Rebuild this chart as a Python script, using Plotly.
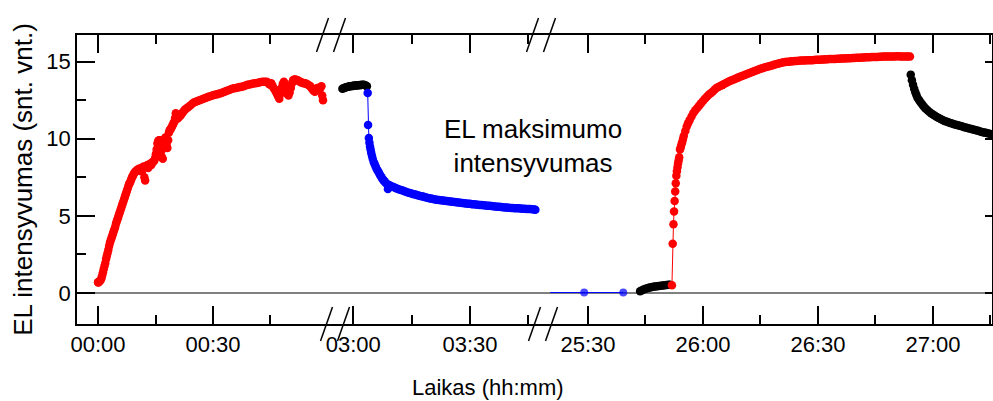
import plotly.graph_objects as go

# ---------------- data (time in minutes since start, EL intensity in a.u.) ----------------
# Segment 1 (00:00 - 01:00) red
t_red1 = [0.0, 0.1, 0.2, 0.3, 0.5, 0.7, 0.9, 1.1, 1.3, 1.5, 1.7, 1.9, 2.1, 2.3, 2.5, 2.7, 2.9,
          3.1, 3.3, 3.5, 3.7, 3.9, 4.1, 4.3, 4.5, 4.7, 4.9, 5.1, 5.3, 5.5, 5.7, 5.9, 6.1,
          6.3, 6.5, 6.7, 6.9, 7.1, 7.3, 7.5, 7.7, 7.9, 8.1, 8.3, 8.5, 8.7, 8.9, 9.1, 9.3,
          9.5, 9.7, 9.9, 10.1, 10.3, 10.5, 10.7, 10.9, 11.1, 11.3, 11.5, 11.7, 11.9, 12.1,
          12.3, 12.5, 12.7, 12.9, 13.1, 13.3, 13.5, 13.7, 13.9, 14.1, 14.3, 14.5, 14.7,
          14.9, 15.1, 15.3, 15.5, 15.7, 15.9, 16.1, 16.3, 16.5, 16.7, 16.9, 17.1, 17.3,
          17.5, 17.7, 17.9, 18.1, 18.3, 18.5, 18.7, 18.9, 19.1, 19.3, 19.5, 19.7, 19.9,
          20.1, 20.3, 20.5, 20.7, 20.9, 21.2, 21.5, 21.8, 22.1, 22.4, 22.7, 23.0, 23.5,
          24.0, 24.5, 25.0, 25.5, 26.0, 26.5, 27.0, 27.5, 28.0, 28.5, 29.0, 29.5, 30.0,
          30.5, 31.0, 31.5, 32.0, 32.5, 33.0, 33.5, 34.0, 34.5, 35.0, 35.5, 36.0, 36.5,
          37.0, 37.5, 38.0, 38.5, 39.0, 39.5, 40.0, 40.5, 41.0, 41.5, 42.0, 42.5, 43.0,
          43.5, 44.0, 44.3, 44.6, 44.9, 45.2, 45.5, 45.8, 46.1, 46.4, 46.7, 47.0, 47.3,
          47.6, 47.9, 48.2, 48.5, 48.8, 49.1, 49.4, 49.7, 50.0, 50.3, 50.6, 50.9, 51.2,
          51.5, 51.8, 52.1, 52.4, 52.7, 53.0, 53.3, 53.6, 53.9, 54.2, 54.5, 54.8, 55.1,
          55.4, 55.7, 56.0, 56.3, 56.6, 56.9, 57.2, 57.5, 57.8, 58.1, 58.3, 58.5, 58.7]
v_red1 = [0.70, 0.68, 0.72, 0.75, 0.78, 0.85, 0.95, 1.15, 1.35, 1.55, 1.75, 1.95, 2.2, 2.4, 2.6,
          2.8, 3.05, 3.25, 3.4, 3.55, 3.7, 3.85, 4.0, 4.15, 4.3, 4.5, 4.65, 4.8, 4.95, 5.1,
          5.25, 5.4, 5.55, 5.7, 5.85, 6.0, 6.15, 6.3, 6.45, 6.6, 6.75, 6.9, 7.05, 7.15,
          7.25, 7.4, 7.5, 7.6, 7.7, 7.8, 7.85, 7.9, 7.95, 8.0, 8.0, 8.05, 8.05, 8.0, 7.9,
          8.1, 8.15, 8.2, 7.5, 7.3, 8.2, 8.25, 8.3, 8.1, 8.2, 8.35, 8.4, 8.3, 8.45, 8.5,
          8.55, 8.6, 8.75, 9.0, 9.3, 9.7, 9.85, 9.9, 9.9, 9.7, 9.2, 8.8, 8.7, 9.5, 9.9,
          10.05, 10.1, 9.6, 9.4, 9.9, 10.4, 10.55, 10.6, 10.7, 10.8, 10.9, 11.0, 11.1,
          11.35, 11.65, 11.5, 11.3, 11.35, 11.45, 11.5, 11.6, 11.7, 11.8, 11.9, 11.95, 12.05,
          12.15, 12.25, 12.35, 12.4, 12.45, 12.5, 12.55, 12.6, 12.65, 12.7, 12.75, 12.78, 12.82,
          12.85, 12.88, 12.92, 12.95, 13.0, 13.05, 13.1, 13.15, 13.2, 13.25, 13.28, 13.3, 13.33,
          13.35, 13.38, 13.4, 13.45, 13.5, 13.52, 13.55, 13.58, 13.6, 13.62, 13.65, 13.68, 13.7,
          13.7, 13.7, 13.65, 13.55, 13.5, 13.6, 13.45, 13.3, 13.2, 13.05, 12.9, 12.75, 12.6,
          12.9, 13.3, 13.55, 13.7, 13.5, 13.2, 12.9, 12.8, 13.0, 13.3, 13.6, 13.8, 13.85,
          13.85, 13.82, 13.8, 13.75, 13.7, 13.65, 13.65, 13.6, 13.6, 13.58, 13.55, 13.5, 13.45,
          13.4, 13.3, 13.2, 13.1, 13.05, 13.2, 13.3, 13.25, 13.2, 13.35, 13.4, 12.8, 12.5]

# Segment 2 (~02:57 - 03:47) black then blue
t_blk2 = [177.2, 177.5, 177.8, 178.1, 178.4, 178.7, 179.0, 179.3, 179.6, 179.9, 180.2, 180.5,
          180.8, 181.1, 181.4, 181.7, 182.0, 182.3, 182.6, 182.9, 183.2, 183.5]
v_blk2 = [13.25, 13.28, 13.31, 13.34, 13.36, 13.38, 13.4, 13.41, 13.42, 13.43, 13.45, 13.45,
          13.46, 13.47, 13.47, 13.48, 13.49, 13.5, 13.5, 13.49, 13.45, 13.4]

t_blu2 = [183.7, 183.8, 184.0, 184.15, 184.3, 184.45, 184.6, 184.8, 185.0, 185.25, 185.5,
          185.75, 186.0, 186.25, 186.5, 186.75, 187.0, 187.25, 187.5, 187.75, 188.0, 188.3,
          188.6, 188.9, 189.2, 189.5, 190.0, 190.5, 191.0, 191.5, 192.0, 192.5, 193.0, 193.5,
          194.0, 194.5, 195.0, 195.5, 196.0, 196.5, 197.0, 197.5, 198.0, 198.5, 199.0, 199.5,
          200.0, 200.5, 201.0, 201.5, 202.0, 202.5, 203.0, 203.5, 204.0, 204.5, 205.0, 205.5,
          206.0, 206.5, 207.0, 207.5, 208.0, 208.5, 209.0, 209.5, 210.0, 210.5, 211.0, 211.5,
          212.0, 212.5, 213.0, 213.5, 214.0, 214.5, 215.0, 215.5, 216.0, 216.5, 217.0, 217.5,
          218.0, 218.5, 219.0, 219.5, 220.0, 220.5, 221.0, 221.5, 222.0, 222.5, 223.0, 223.5,
          224.0, 224.5, 225.0, 225.5, 226.0, 226.5, 226.8]
v_blu2 = [12.97, 10.9, 10.05, 9.75, 9.5, 9.3, 9.1, 8.9, 8.7, 8.5, 8.35,
          8.2, 8.05, 7.95, 7.85, 7.72, 7.6, 7.5, 7.4, 7.32, 7.25, 7.15,
          7.08, 6.75, 7.0, 6.95, 6.9, 6.85, 6.8, 6.75, 6.7, 6.66, 6.62, 6.57,
          6.52, 6.48, 6.45, 6.41, 6.38, 6.34, 6.3, 6.28, 6.25, 6.21, 6.18, 6.15,
          6.12, 6.1, 6.07, 6.05, 6.03, 6.01, 6.0, 5.98, 5.96, 5.95, 5.93, 5.91,
          5.9, 5.88, 5.87, 5.85, 5.84, 5.82, 5.81, 5.79, 5.78, 5.76, 5.75, 5.74,
          5.73, 5.71, 5.7, 5.69, 5.68, 5.66, 5.65, 5.64, 5.63, 5.61, 5.6, 5.59,
          5.58, 5.56, 5.55, 5.54, 5.53, 5.52, 5.51, 5.5, 5.5, 5.49, 5.48, 5.47,
          5.46, 5.45, 5.44, 5.44, 5.43, 5.41, 5.4]

# Segment 3 (~25:18 - 27:15)
t_blu3 = [1520.1, 1529.0, 1539.2]
v_blu3 = [0.03, 0.03, 0.03]
m_blu3 = [0, 8, 8]

t_blk3a = [1543.6, 1544.0, 1544.5, 1545.0, 1545.5, 1546.0, 1546.5, 1547.0, 1547.5, 1548.0,
           1548.5, 1549.0, 1549.5, 1550.0, 1550.5, 1551.0, 1551.4]
v_blk3a = [0.12, 0.17, 0.22, 0.27, 0.31, 0.35, 0.38, 0.4, 0.42, 0.44,
           0.46, 0.47, 0.49, 0.5, 0.52, 0.53, 0.54]

t_red3 = [1551.9, 1552.1, 1552.3, 1552.45, 1552.6, 1552.75, 1552.9, 1553.05, 1553.2, 1553.35,
          1553.5, 1553.65, 1553.8, 1554.0, 1554.2, 1554.4, 1554.6, 1554.8, 1555.0, 1555.4,
          1555.75, 1556.1, 1556.5, 1557.0, 1557.5, 1558.0, 1558.5, 1559.0, 1559.5, 1560.0,
          1560.5, 1561.0, 1561.5, 1562.0, 1562.5, 1563.0, 1563.5, 1564.0, 1564.5, 1565.0,
          1565.5, 1566.0, 1566.5, 1567.0, 1567.5, 1568.0, 1568.5, 1569.0, 1569.5, 1570.0,
          1570.5, 1571.0, 1571.5, 1572.0, 1572.5, 1573.0, 1573.5, 1574.0, 1574.5, 1575.0,
          1575.5, 1576.0, 1576.5, 1577.0, 1577.5, 1578.0, 1578.5, 1579.0, 1579.5, 1580.0,
          1580.5, 1581.0, 1581.5, 1582.0, 1582.5, 1583.0, 1583.5, 1584.0, 1584.5, 1585.0,
          1585.5, 1586.0, 1586.5, 1587.0, 1587.5, 1588.0, 1588.5, 1589.0, 1589.5, 1590.0,
          1590.5, 1591.0, 1591.5, 1592.0, 1592.5, 1593.0, 1593.5, 1594.0, 1594.5, 1595.0,
          1595.5, 1596.0, 1596.5, 1597.0, 1597.5, 1598.0, 1598.5, 1599.0, 1599.5, 1600.0,
          1600.5, 1601.0, 1601.5, 1602.0, 1602.5, 1603.0, 1603.5, 1604.0, 1604.5, 1605.0,
          1605.5, 1606.0, 1606.5, 1607.0, 1607.5, 1608.0, 1608.5, 1609.0, 1609.5, 1610.0,
          1610.5, 1611.0, 1611.5, 1612.0, 1612.5, 1613.0, 1613.5, 1614.0]
v_red3 = [0.5, 3.2, 4.46, 5.28, 5.97, 6.58, 7.12, 7.6, 7.9, 8.15,
          8.4, 8.6, 8.8, 9.3, 9.45, 9.65, 9.8, 10.0, 10.2, 10.5,
          10.8, 11.0, 11.2, 11.45, 11.67, 11.85, 12.0, 12.15, 12.3, 12.45,
          12.6, 12.72, 12.85, 12.95, 13.05, 13.18, 13.3, 13.36, 13.42, 13.48,
          13.55, 13.62, 13.68, 13.74, 13.8, 13.85, 13.9, 13.95, 14.0, 14.05,
          14.1, 14.15, 14.2, 14.25, 14.3, 14.35, 14.4, 14.45, 14.5, 14.54,
          14.58, 14.62, 14.65, 14.69, 14.72, 14.76, 14.8, 14.83, 14.86, 14.9,
          14.93, 14.96, 14.98, 14.99, 15.0, 15.02, 15.03, 15.04, 15.05, 15.06,
          15.07, 15.08, 15.08, 15.09, 15.09, 15.1, 15.1, 15.11, 15.12, 15.13,
          15.13, 15.14, 15.14, 15.15, 15.16, 15.17, 15.17, 15.18, 15.18, 15.19,
          15.19, 15.2, 15.21, 15.21, 15.22, 15.22, 15.23, 15.24, 15.24, 15.25,
          15.26, 15.26, 15.27, 15.27, 15.28, 15.29, 15.29, 15.3, 15.3, 15.31,
          15.31, 15.32, 15.32, 15.33, 15.33, 15.33, 15.34, 15.34, 15.34, 15.34,
          15.35, 15.35, 15.34, 15.34, 15.34, 15.34, 15.33, 15.33]

t_blk3b = [1614.2, 1614.5, 1614.8, 1615.1, 1615.4, 1615.7, 1616.0, 1616.4, 1616.8, 1617.2,
           1617.6, 1618.0, 1618.5, 1619.0, 1619.5, 1620.0, 1620.5, 1621.0, 1621.5, 1622.0,
           1622.5, 1623.0, 1623.5, 1624.0, 1624.5, 1625.0, 1625.5, 1626.0, 1626.5, 1627.0,
           1627.5, 1628.0, 1628.5, 1629.0, 1629.5, 1630.0, 1630.5, 1631.0, 1631.5, 1632.0,
           1632.5, 1633.0, 1633.5, 1634.0, 1634.5, 1635.0, 1635.5, 1636.0]
v_blk3b = [14.16, 13.8, 13.5, 13.25, 13.02, 12.82, 12.65, 12.5, 12.36, 12.22,
           12.1, 11.98, 11.86, 11.76, 11.66, 11.57, 11.5, 11.42, 11.35, 11.28,
           11.22, 11.16, 11.12, 11.07, 11.03, 10.99, 10.95, 10.91, 10.88, 10.84,
           10.81, 10.77, 10.74, 10.7, 10.67, 10.63, 10.6, 10.57, 10.53, 10.5,
           10.46, 10.43, 10.4, 10.37, 10.34, 10.31, 10.28, 10.25]

# ticks
seg1_ticks = [0, 30]
seg1_labels = ["00:00", "00:30"]
seg1_minor = [15, 45]
seg2_ticks = [180, 210]
seg2_labels = ["03:00", "03:30"]
seg2_minor = [195, 225]
seg3_ticks = [1530, 1560, 1590, 1620]
seg3_labels = ["25:30", "26:00", "26:30", "27:00"]
seg3_minor = [1545, 1575, 1605, 1635]
y_ticks = [0, 5, 10, 15]

# ---------------- layout geometry ----------------
W, H = 993, 401
ML, MR, MT, MB = 77, 1, 35, 77
PW = W - ML - MR
PH = H - MT - MB
x_ranges = [[-5.48, 60.79], [174.27, 228.25], [1517.74, 1635.4]]
bounds = [0.0, 254 / PW, 464 / PW, 1.0]
y_range = [-2.01, 16.73]

FONT = "Liberation Sans, Arial, sans-serif"
MSIZE = 8.5

fig = go.Figure()

def add(t, v, color, xa, ya, msize=MSIZE):
    fig.add_trace(go.Scatter(x=t, y=v, mode="lines+markers", xaxis=xa, yaxis=ya,
                             line=dict(color=color, width=1),
                             marker=dict(color=color, size=msize, line=dict(width=0)),
                             showlegend=False, hoverinfo="skip", cliponaxis=True))

add(t_red1, v_red1, "#ff0000", "x", "y")
add(t_blk2, v_blk2, "#000000", "x2", "y")
add(t_blu2, v_blu2, "#0000ff", "x2", "y")
add(t_blu3, v_blu3, "#0000ff", "x3", "y2", m_blu3)
add(t_blk3a, v_blk3a, "#000000", "x3", "y2")
add(t_red3, v_red3, "#ff0000", "x3", "y2")
add(t_blk3b, v_blk3b, "#000000", "x3", "y2")

tickfont = dict(family=FONT, size=22, color="black")

def xaxis(i, ticks, labels, minor):
    return dict(domain=[bounds[i], bounds[i + 1]], range=x_ranges[i], anchor="y",
                tickmode="array", tickvals=ticks, ticktext=labels,
                ticks="inside", ticklen=18, tickwidth=1.5, tickcolor="black",
                minor=dict(tickmode="array", tickvals=minor, ticks="inside", ticklen=9,
                           tickwidth=1.5, tickcolor="black"),
                showline=True, linecolor="black", linewidth=1.5, mirror="ticks",
                showgrid=False, zeroline=False, tickfont=tickfont)

fig.update_layout(
    width=W, height=H, margin=dict(l=ML, r=MR, t=MT, b=MB, pad=0),
    paper_bgcolor="white", plot_bgcolor="white",
    xaxis=xaxis(0, seg1_ticks, seg1_labels, seg1_minor),
    xaxis2=xaxis(1, seg2_ticks, seg2_labels, seg2_minor),
    xaxis3=xaxis(2, seg3_ticks, seg3_labels, seg3_minor),
    yaxis=dict(range=y_range, anchor="x", tickvals=y_ticks, ticks="inside", ticklen=18,
               tickwidth=1.5, tickcolor="black",
               minor=dict(dtick=2.5, tick0=0, ticks="inside", ticklen=9, tickwidth=1.5,
                          tickcolor="black"),
               showline=True, linecolor="black", linewidth=1.5, showgrid=False,
               zeroline=False, tickfont=tickfont,
               title=dict(text="EL intensyvumas (snt. vnt.)",
                          font=dict(family=FONT, size=26, color="black"), standoff=6)),
    yaxis2=dict(range=y_range, overlaying="y", side="right", anchor="x3",
                tickvals=y_ticks, ticks="inside", ticklen=7, tickwidth=1.5,
                tickcolor="black", showticklabels=False, showline=True,
                linecolor="black", linewidth=1.5, showgrid=False, zeroline=False),
)

# x axis title and label annotation
fig.add_annotation(text="Laikas (hh:mm)", xref="paper", yref="paper",
                   x=(488 - ML) / PW, y=(MT + PH - 387) / PH, yanchor="middle",
                   showarrow=False, font=dict(family=FONT, size=22, color="black"))
fig.add_annotation(text="EL maksimumo<br>intensyvumas", xref="paper", yref="paper",
                   x=(533 - ML) / PW, y=(MT + PH - 146) / PH, yanchor="middle",
                   xanchor="center", showarrow=False, align="center",
                   font=dict(family=FONT, size=26, color="black"))

# zero line across all segments
fig.add_shape(type="line", xref="paper", yref="y", x0=0, x1=1, y0=0, y1=0,
              line=dict(color="black", width=1), layer="below")

# axis-break marks ("//") at segment boundaries, top and bottom
def px2paper_x(px):
    return (px - ML) / PW

def px2paper_y(py):
    return (MT + PH - py) / PH

for b, shift in ((bounds[1], (0, 4)), (bounds[2], (0, 2))):
    cx = ML + b * PW
    for edge_y, dx in ((MT, shift[0]), (MT + PH, shift[1])):
        for off in (-8.5, 8.5):
            mx = cx + dx + off
            fig.add_shape(type="line", xref="paper", yref="paper",
                          x0=px2paper_x(mx - 6), y0=px2paper_y(edge_y + 17),
                          x1=px2paper_x(mx + 6), y1=px2paper_y(edge_y - 17),
                          line=dict(color="black", width=1.5))

fig.write_html("out.html")
